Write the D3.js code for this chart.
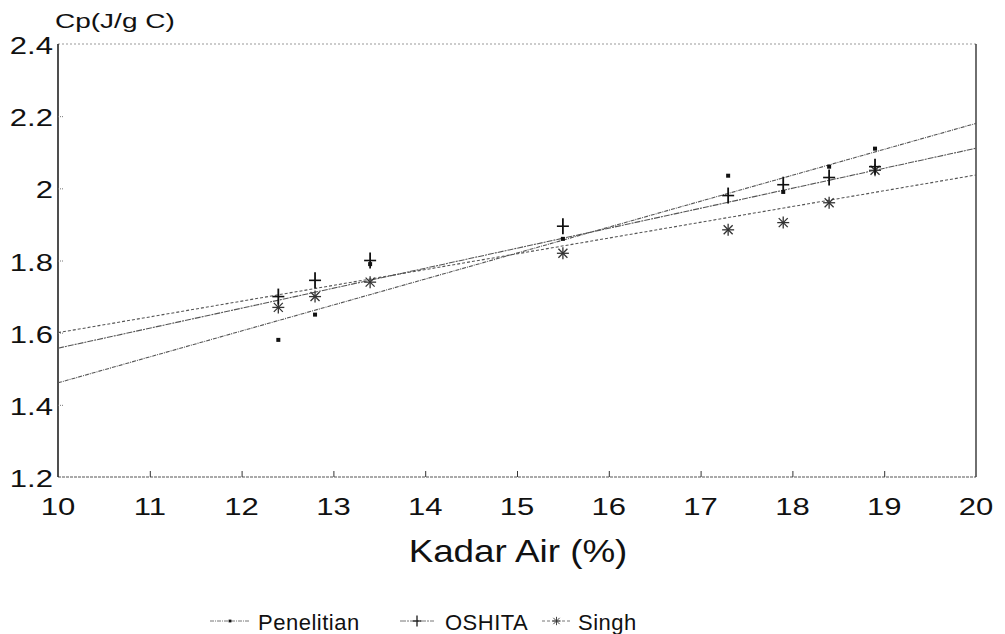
<!DOCTYPE html>
<html>
<head>
<meta charset="utf-8">
<script src="https://cdn.jsdelivr.net/npm/d3@7"></script>
<style>
  body { margin: 0; background: #fff; }
  text { font-family: "Liberation Sans", Arial, sans-serif; fill: #111; }
</style>
</head>
<body>
<script>
// moisture content (%)
var kadar = [12.4, 12.8, 13.4, 15.5, 17.3, 17.9, 18.4, 18.9];
// Cp values
var penelitian = [1.58, 1.65, 1.79, 1.86, 2.035, 1.99, 2.06, 2.11];
var oshita     = [1.70, 1.745, 1.80, 1.895, 1.98, 2.01, 2.03, 2.06];
var singh      = [1.67, 1.70, 1.74, 1.82, 1.885, 1.905, 1.96, 2.05];
// fitted lines, value at x=10 and x=20
var fitX = [10, 20];
var fitPenelitian = [1.461, 2.180];
var fitOshita     = [1.557, 2.111];
var fitSingh      = [1.600, 2.037];

var xTicks = [10, 11, 12, 13, 14, 15, 16, 17, 18, 19, 20];
var yTicks = [1.2, 1.4, 1.6, 1.8, 2, 2.2, 2.4];
var yTickLabels = ["1.2", "1.4", "1.6", "1.8", "2", "2.2", "2.4"];
var legendNames = ["Penelitian", "OSHITA", "Singh"];

var width = 1005, height = 634;
var pLeft = 58, pRight = 976, pTop = 44, pBottom = 477;

var svg = d3.select("body").append("svg")
  .attr("width", width)
  .attr("height", height);

var x = d3.scaleLinear().domain([10, 20]).range([pLeft, pRight]);
var y = d3.scaleLinear().domain([1.2, 2.4]).range([pBottom, pTop]);

// wide lettering like the old plotter font
function wideText(g, tx, ty, str, size, sx, anchor) {
  return g.append("text")
    .attr("transform", "translate(" + tx + "," + ty + ") scale(" + sx + ",1)")
    .attr("text-anchor", anchor)
    .style("font-size", size + "px")
    .text(str);
}

// frame
svg.append("line").attr("x1", pLeft).attr("x2", pRight).attr("y1", pTop).attr("y2", pTop)
  .attr("stroke", "#999").attr("stroke-width", 1).attr("stroke-dasharray", "2,2");
svg.append("line").attr("x1", pLeft).attr("x2", pRight).attr("y1", pBottom).attr("y2", pBottom)
  .attr("stroke", "#555").attr("stroke-width", 1).attr("stroke-dasharray", "3,1");
svg.append("line").attr("x1", pLeft).attr("x2", pLeft).attr("y1", pTop).attr("y2", pBottom)
  .attr("stroke", "#222").attr("stroke-width", 1.6);
svg.append("line").attr("x1", pRight).attr("x2", pRight).attr("y1", pTop).attr("y2", pBottom)
  .attr("stroke", "#333").attr("stroke-width", 1.4);

// axes (ticks only, labels drawn wide)
var xAxis = d3.axisBottom(x).tickValues(xTicks.slice(1, -1)).tickSize(-6).tickFormat("");
var gx = svg.append("g").attr("transform", "translate(0," + pBottom + ")").call(xAxis);
gx.select(".domain").remove();
gx.selectAll("line").attr("stroke", "#333");

var yAxis = d3.axisLeft(y).tickValues(yTicks.slice(1, -1)).tickSize(-5).tickFormat("");
var gy = svg.append("g").attr("transform", "translate(" + pLeft + ",0)").call(yAxis);
gy.select(".domain").remove();
gy.selectAll("line").attr("stroke", "#777").attr("stroke-dasharray", "1,1");

var labels = svg.append("g");
xTicks.forEach(function(d) {
  wideText(labels, x(d), pBottom + 38, String(d), 23, 1.35, "middle");
});
yTicks.forEach(function(d, i) {
  wideText(labels, pLeft - 5, y(d) + 10, yTickLabels[i], 23, 1.35, "end");
});

wideText(svg, 55, 28, "Cp(J/g C)", 20, 1.4, "start");
wideText(svg, 518, 562, "Kadar Air (%)", 32, 1.15, "middle");

// fitted lines
var line = d3.line().x(function(d) { return x(d[0]); }).y(function(d) { return y(d[1]); });
var fits = [fitPenelitian, fitOshita, fitSingh];
var dashes = ["4,1,1,1", "6,1,2,1", "3,2"];
fits.forEach(function(f, i) {
  svg.append("path")
    .datum(fitX.map(function(v, j) { return [v, f[j]]; }))
    .attr("d", line)
    .attr("fill", "none")
    .attr("stroke", "#555")
    .attr("stroke-width", 1.1)
    .attr("stroke-dasharray", dashes[i]);
});

// markers
function dot(g, cx, cy) {
  g.append("rect").attr("x", cx - 2).attr("y", cy - 2).attr("width", 4).attr("height", 4)
    .attr("fill", "#111");
}
function plus(g, cx, cy) {
  g.append("line").attr("x1", cx).attr("x2", cx).attr("y1", cy - 8).attr("y2", cy + 8)
    .attr("stroke", "#111").attr("stroke-width", 1.8);
  g.append("line").attr("x1", cx - 6).attr("x2", cx + 6).attr("y1", cy).attr("y2", cy)
    .attr("stroke", "#111").attr("stroke-width", 1.6);
}
function star(g, cx, cy) {
  var r = 6;
  [[0, r], [r, 0], [r * 0.75, r * 0.75], [r * 0.75, -r * 0.75]].forEach(function(o) {
    g.append("line").attr("x1", cx - o[0]).attr("x2", cx + o[0])
      .attr("y1", cy - o[1]).attr("y2", cy + o[1])
      .attr("stroke", "#333").attr("stroke-width", 1.3);
  });
}

var marks = svg.append("g");
kadar.forEach(function(k, i) {
  star(marks, x(k), y(singh[i]));
  plus(marks, x(k), y(oshita[i]));
  dot(marks, x(k), y(penelitian[i]));
});

// legend
var legend = svg.append("g");
var legendLine = [[210, 250], [400, 434], [542, 571]];
var legendText = [258, 445, 578];
legendNames.forEach(function(name, i) {
  var ly = 621;
  legend.append("line").attr("x1", legendLine[i][0]).attr("x2", legendLine[i][1])
    .attr("y1", ly).attr("y2", ly)
    .attr("stroke", "#777").attr("stroke-width", 1).attr("stroke-dasharray", dashes[i]);
  var g = legend.append("g").attr("transform", "translate(" + (legendLine[i][0] + legendLine[i][1]) / 2 + "," + ly + ") scale(0.7)");
  if (i === 0) { dot(g, 0, 0); }
  else if (i === 1) { plus(g, 0, 0); }
  else { star(g, 0, 0); }
  legend.append("text").attr("x", legendText[i]).attr("y", 630)
    .style("font-size", "22px").style("letter-spacing", "0.5px")
    .text(name);
});
</script>
</body>
</html>
